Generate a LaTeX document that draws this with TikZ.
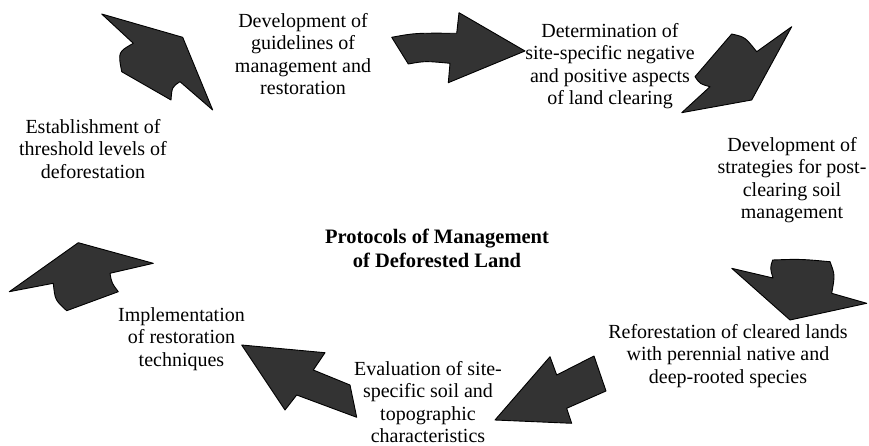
\documentclass[tikz,border=0pt]{standalone}
\usepackage{fontspec}
\setmainfont{Liberation Serif}
\begin{document}
\begin{tikzpicture}[x=1pt,y=-1pt,
  blk/.style={fill=black!80,draw=black,line width=0.9pt,line join=round},
  lbl/.style={align=center,inner sep=0pt,font=\fontsize{20}{22.5}\selectfont},
  ttl/.style={align=center,inner sep=0pt,font=\fontsize{20.5}{23.5}\selectfont\bfseries}]
\useasboundingbox (0,0) rectangle (869,446);
% arrows
\draw[blk] (101.7,14) -- (182.7,37.3) -- (212.7,110) -- (180,81.7) .. controls (172,87) .. (171,100) -- (121.7,71.7) .. controls (118,52) .. (133.3,43.3) -- cycle;
\draw[blk] (391.7,37.3) .. controls (415,33) .. (456.7,33.3) -- (459,12.7) -- (525,51) -- (448.3,82.7) -- (450,63.3) .. controls (425,61) .. (408.3,64) -- cycle;
\draw[blk] (731.7,34) .. controls (745,37) .. (756.7,51.7) -- (791.7,26.7) -- (751.7,100) -- (681.7,112.7) -- (710,86.7) .. controls (700,84) .. (695,76.7) -- cycle;
\draw[blk] (772.7,260) .. controls (800,259) .. (830,261.7) .. controls (835,275) .. (831.7,293.3) -- (866.7,303.3) -- (790,320) -- (731.7,268.3) -- (773,278) .. controls (770,268) .. (772.7,260) -- cycle;
\draw[blk] (495,420) -- (550,356.7) -- (556.7,375) -- (594,356) -- (606,391) -- (566.7,408.3) -- (571.7,423.3) -- cycle;
\draw[blk] (241.7,345) -- (325,352.7) -- (313.3,370) -- (350,385) -- (356.7,417.3) -- (296.7,395) -- (285,410) -- cycle;
\draw[blk] (9.3,291.7) -- (78.3,242.7) -- (153.3,263.3) -- (110,273.3) .. controls (111.7,283) .. (118.3,291.7) -- (66.7,310.7) .. controls (55,300) .. (53.3,283.3) -- cycle;
% texts
\node[lbl] (t1) at (303,54) {Development of\\guidelines of\\management and\\restoration};
\node[lbl] (t2) at (610,66) {Determination of\\site-specific negative\\and positive aspects\\of land clearing};
\node[lbl] (t3) at (792,180) {Development of\\strategies for post-\\clearing soil\\management};
\node[lbl] (t4) at (728,356) {Reforestation of cleared lands\\with perennial native and\\deep-rooted species};
\node[lbl] (t5) at (428,402) {Evaluation of site-\\specific soil and\\topographic\\characteristics};
\node[lbl] (t6) at (181.5,339) {Implementation\\of restoration\\techniques};
\node[lbl] (t7) at (93,149) {Establishment of\\threshold levels of\\deforestation};
\node[ttl] (title) at (437,248.5) {Protocols of Management\\of Deforested Land};
\end{tikzpicture}
\end{document}
